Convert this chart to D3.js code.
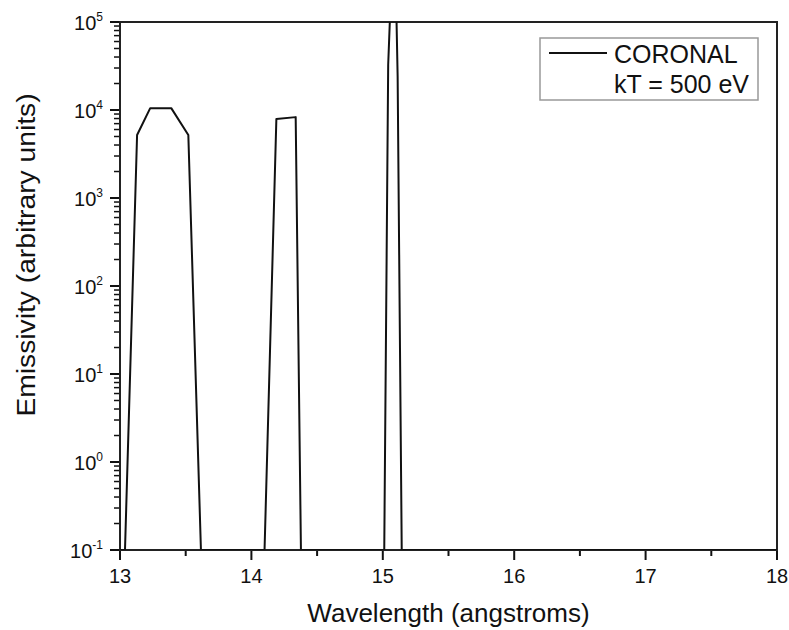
<!DOCTYPE html>
<html>
<head>
<meta charset="utf-8">
<script src="https://cdn.jsdelivr.net/npm/d3@7"></script>
<style>
  body { margin: 0; background: #fff; }
  svg { display: block; font-family: Arial, "Liberation Sans", sans-serif; }
</style>
</head>
<body>
<svg width="789" height="630"></svg>
<script>
// data (emissivity, log scale)
var wavelength = [13.00, 13.038, 13.13, 13.23, 13.39, 13.52, 13.616,
                  14.10, 14.19, 14.337, 14.377,
                  15.011, 15.041, 15.087, 15.113, 15.144, 18.00];
var emissivity = [0.1, 0.1, 5200, 10500, 10500, 5200, 0.1,
                  0.1, 7900, 8300, 0.1,
                  0.1, 32600, 2100000, 23700, 0.1, 0.1];
var xTicks = [13, 14, 15, 16, 17, 18];
var xMinor = [13.5, 14.5, 15.5, 16.5, 17.5];
var yExps = [-1, 0, 1, 2, 3, 4, 5];
var legendLines = ["CORONAL", "kT = 500 eV"];

var svg = d3.select("svg"),
    margin = {top: 22, right: 12, bottom: 80, left: 120},
    width = 789 - margin.left - margin.right,
    height = 630 - margin.top - margin.bottom;

var x = d3.scaleLinear().domain([13, 18]).range([0, width]);
var y = d3.scaleLog().domain([0.1, 1e5]).range([height, 0]);

var g = svg.append("g").attr("transform", "translate(" + margin.left + "," + margin.top + ")");

svg.append("defs").append("clipPath").attr("id", "clip")
  .append("rect").attr("width", width).attr("height", height);

// minor log ticks 2..9 x 10^n
var minor = [];
yExps.slice(0, -1).forEach(function(e) {
  for (var k = 2; k <= 9; k++) minor.push(k * Math.pow(10, e));
});

// tick marks (outward), from the scales
var ticks = g.append("g").attr("stroke", "#111");
ticks.selectAll(".xmaj").data(xTicks).enter().append("line")
    .attr("x1", x).attr("x2", x)
    .attr("y1", height).attr("y2", height + 10)
    .attr("stroke-width", 2);
ticks.selectAll(".xmin").data(xMinor).enter().append("line")
    .attr("x1", x).attr("x2", x)
    .attr("y1", height).attr("y2", height + 6)
    .attr("stroke-width", 2);
ticks.selectAll(".ymaj").data(yExps).enter().append("line")
    .attr("y1", function(d) { return y(Math.pow(10, d)); })
    .attr("y2", function(d) { return y(Math.pow(10, d)); })
    .attr("x1", -10).attr("x2", 0)
    .attr("stroke-width", 2);
ticks.selectAll(".ymin").data(minor).enter().append("line")
    .attr("y1", y).attr("y2", y)
    .attr("x1", -6).attr("x2", 0)
    .attr("stroke-width", 1.5);

// x tick labels
g.append("g").selectAll("text")
    .data(xTicks)
    .enter().append("text")
    .attr("x", x)
    .attr("y", height + 33)
    .attr("text-anchor", "middle")
    .attr("font-size", 20)
    .attr("fill", "#111")
    .text(d3.format("d"));

// y tick labels as 10^n
var yLab = g.append("g").selectAll("text")
    .data(yExps)
    .enter().append("text")
    .attr("x", -17)
    .attr("y", function(d) { return y(Math.pow(10, d)) + 8; })
    .attr("text-anchor", "end")
    .attr("font-size", 20)
    .attr("fill", "#111");
yLab.append("tspan").text("10");
yLab.append("tspan")
    .attr("font-size", 12)
    .attr("dy", -9)
    .text(function(d) { return d; });

// frame
g.append("rect")
    .attr("width", width)
    .attr("height", height)
    .attr("fill", "none")
    .attr("stroke", "#222")
    .attr("stroke-width", 2);

// data line
var data = wavelength.map(function(d, i) { return {x: d, y: emissivity[i]}; });
var line = d3.line().x(function(d) { return x(d.x); }).y(function(d) { return y(d.y); });

g.append("path")
    .datum(data)
    .attr("clip-path", "url(#clip)")
    .attr("fill", "none")
    .attr("stroke", "#111")
    .attr("stroke-width", 2)
    .attr("stroke-linejoin", "round")
    .attr("d", line);

// axis titles
svg.append("text")
    .attr("x", margin.left + width / 2)
    .attr("y", 622)
    .attr("text-anchor", "middle")
    .attr("font-size", 26)
    .attr("fill", "#111")
    .text("Wavelength (angstroms)");

svg.append("text")
    .attr("transform", "translate(35,255) rotate(-90) scale(1.13,1)")
    .attr("text-anchor", "middle")
    .attr("font-size", 25)
    .attr("fill", "#111")
    .text("Emissivity (arbitrary units)");

// legend
var legend = svg.append("g").attr("transform", "translate(540,38)");
legend.append("rect")
    .attr("width", 218).attr("height", 62)
    .attr("fill", "#fff").attr("stroke", "#999").attr("stroke-width", 1.5);
legend.append("line")
    .attr("x1", 9).attr("x2", 67).attr("y1", 15).attr("y2", 15)
    .attr("stroke", "#111").attr("stroke-width", 2);
legend.selectAll(".lt")
    .data(legendLines)
    .enter().append("text")
    .attr("class", "lt")
    .attr("x", 74)
    .attr("y", function(d, i) { return 25 + i * 30; })
    .attr("font-size", 25)
    .attr("fill", "#111")
    .text(function(d) { return d; });
</script>
</body>
</html>
